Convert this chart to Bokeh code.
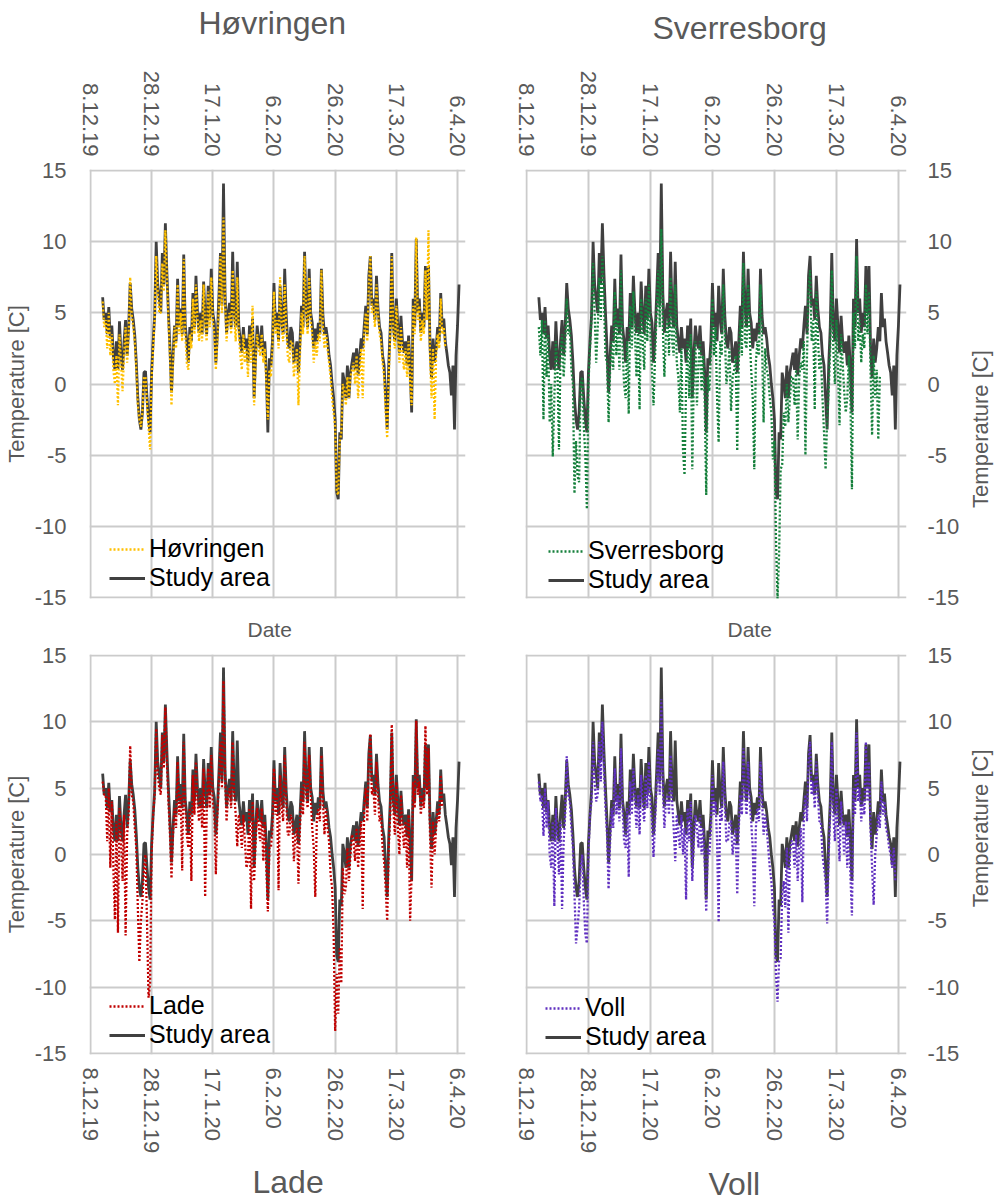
import calendar
import math
import datetime as dt
from bokeh.plotting import figure
from bokeh.models import FixedTicker, Legend, LegendItem, Range1d, Label
from bokeh.layouts import row, column
from bokeh.embed import file_html
from bokeh.resources import INLINE
from bokeh.core.validation import silence
from bokeh.core.validation.warnings import MISSING_RENDERERS

silence(MISSING_RENDERERS, True)

FONT = "Liberation Sans"
GREY = "#595959"

# ---------------- data (12-hourly readings, first value at 12.12.2019 00:00) ----------------
series_start = dt.datetime(2019, 12, 12)

study_area = [
    6.1, 4.5, 5.0, 3.5, 5.4, 3.2, 4.1, 2.0, 1.0, 3.0, 1.0, 4.4, 2.0, 1.0, 3.0, 4.5, 2.0, 4.0, 7.1, 5.3,
    4.5, 3.4, 1.5, -1.0, -2.5, -3.2, -2.0, 0.8, 0.9, -1.0, -2.5, -3.4, 0.8, 3.0, 4.8, 10.0, 7.0, 6.0, 5.0, 9.2,
    7.0, 11.3, 7.8, 5.0, 2.5, -0.6, 2.0, 4.1, 3.0, 7.4, 4.0, 5.3, 3.5, 9.1, 4.1, 3.0, 1.5, 4.0, 3.0, 6.4,
    4.0, 7.6, 5.0, 3.6, 5.0, 3.5, 7.2, 4.8, 3.5, 6.9, 4.5, 8.1, 5.0, 4.3, 1.5, 3.5, 6.2, 9.2, 5.5, 14.1,
    6.4, 3.6, 5.0, 5.7, 4.0, 9.3, 5.0, 4.0, 8.6, 4.1, 3.0, 2.2, 4.0, 2.5, 3.2, 1.5, 4.1, 2.5, 4.6, -1.0,
    2.0, 4.1, 3.0, 2.5, 4.1, 2.0, 3.0, 0.8, -3.4, 1.8, 1.3, 3.0, 7.1, 4.0, 5.0, 3.0, 6.9, 4.5, 3.5, 8.1,
    4.8, 3.0, 2.5, 4.0, 3.6, 1.5, 2.2, 3.0, 0.8, 3.0, 5.5, 4.0, 9.3, 5.5, 4.0, 8.1, 5.0, 4.3, 2.5, 3.9,
    3.0, 4.3, 3.5, 8.1, 4.8, 3.5, 4.0, 3.2, 2.0, 1.3, 0.0, -1.0, -2.5, -7.6, -8.1, -3.4, -3.9, 0.8, 0.1, -1.0,
    1.3, -1.0, 0.8, 1.5, 2.2, 1.0, 2.5, 0.6, 2.0, 3.2, 2.5, 4.1, 5.5, 3.5, 7.6, 9.0, 5.5, 6.0, 4.5, 7.6,
    5.3, 4.0, 3.6, 2.0, 1.3, -1.0, -3.2, 1.3, 4.0, 9.2, 4.1, 3.0, 6.0, 4.0, 2.2, 4.8, 3.0, 2.2, 3.0, 1.3,
    3.4, 1.0, -2.0, 6.0, 4.0, 10.2, 5.0, 6.0, 3.6, 5.0, 4.0, 8.3, 5.0, 8.3, 2.7, 0.4, 3.2, 1.5, 2.5, 4.0,
    3.0, 6.4, 4.0, 4.6, 3.0, 2.2, 1.3, 0.8, -0.8, 1.3, -3.2, 2.0, 4.1, 7.0,
]

hovringen = [
    5.8, 4.0, 4.5, 2.5, 5.0, 2.0, 3.5, 1.0, 0.0, 2.0, -1.5, 3.5, 1.5, -0.5, 2.0, 4.0, 1.5, 3.5, 7.5, 4.8,
    4.0, 3.0, 1.0, -1.5, -2.5, -3.0, -2.0, 0.5, 0.5, -1.5, -3.0, -4.6, 0.5, 2.5, 4.5, 9.0, 6.5, 5.0, 5.0, 8.5,
    6.5, 10.8, 7.5, 4.5, 2.0, -1.5, 1.5, 4.0, 2.5, 7.0, 3.5, 5.0, 3.0, 8.8, 3.5, 1.5, 1.0, 3.5, 2.5, 6.0,
    3.5, 7.0, 4.5, 3.0, 4.5, 3.0, 7.0, 4.0, 3.0, 6.5, 4.0, 7.5, 4.5, 3.5, 1.0, 3.0, 5.5, 9.0, 5.0, 11.7,
    6.0, 3.0, 4.5, 5.0, 3.5, 8.0, 4.5, 3.0, 7.5, 3.5, 2.0, 1.0, 3.5, 1.5, 2.5, 0.5, 3.5, 1.5, 5.5, -1.5,
    1.5, 3.5, 2.5, 2.0, 3.5, 1.5, 2.5, 0.0, -2.5, 1.0, 0.5, 2.5, 6.5, 3.5, 4.5, 2.5, 7.5, 4.0, 3.0, 7.0,
    4.0, 2.0, 1.5, 3.0, 3.0, 0.5, 1.5, 2.5, -1.5, 2.0, 5.0, 3.5, 9.0, 5.0, 3.5, 7.5, 4.5, 3.5, 1.5, 3.0,
    2.0, 3.5, 3.0, 8.0, 4.0, 2.5, 3.5, 2.5, 1.5, 0.5, -1.0, -2.0, -3.0, -7.5, -7.8, -4.0, -3.5, 0.0, -0.5, -1.5,
    0.5, -1.0, 0.5, 1.0, 1.5, 0.0, 2.0, -1.0, 1.0, 2.5, -1.0, 3.5, 5.0, 3.0, 7.0, 9.0, 5.0, 5.5, 4.0, 7.0,
    5.0, 3.5, 3.0, 1.5, 0.5, -2.0, -3.8, 0.5, 3.5, 9.0, 3.5, 2.5, 5.5, 3.5, 1.5, 4.0, 2.0, 1.0, 2.5, 0.5,
    3.0, 0.0, -1.5, 5.5, 3.5, 10.3, 4.5, 5.5, 3.0, 4.5, 3.5, 8.0, 4.5, 10.8, 2.0, -1.0, 2.5, -2.5, 2.0, 3.5,
    2.5, 6.0, 3.5, 4.0, 2.5,
]

sverresborg = [
    4.0, 2.0, 4.5, -2.5, 4.5, 0.5, 3.5, -2.7, 0.0, -5.1, -1.0, 3.0, 1.0, -4.6, 2.0, 3.5, 0.5, 2.5, 6.0, 3.5,
    4.0, 1.0, 0.0, -7.7, -4.0, -6.5, -6.9, 0.0, 0.5, -3.0, -5.0, -8.8, 0.0, 2.5, 4.5, 8.5, 5.0, 1.5, 4.0, 7.5,
    4.5, 9.0, 6.0, 2.0, 1.5, -2.7, 1.0, 3.0, 1.0, 6.5, 2.0, 4.5, 1.0, 8.0, 2.5, 0.0, -1.0, 3.0, -2.1, 5.5,
    2.5, 6.5, 3.5, 0.5, 4.0, -1.8, 6.0, 3.0, 1.0, 6.0, 3.0, 7.0, 3.5, 1.0, -1.5, 2.0, 5.0, 8.0, 4.0, 10.9,
    4.0, 0.5, 3.5, 4.5, 2.0, 7.5, 3.0, 2.0, 7.0, 1.5, 0.5, -2.0, 2.5, -4.6, -6.4, 0.0, 3.0, -1.0, 3.5, -6.0,
    0.5, 3.0, -1.5, 1.5, 3.0, -0.5, 2.0, -1.0, -7.8, 0.5, -0.5, 2.0, 6.0, 2.0, 4.0, -1.0, -4.1, 3.0, 2.0, 7.0,
    3.5, 0.0, 1.0, 2.5, -1.9, 0.5, 1.0, 2.0, -4.7, 1.5, 4.5, 2.0, 8.5, 3.0, 2.5, 7.0, 3.5, 1.0, -1.0, -6.0,
    1.5, 3.0, 2.0, 7.0, 3.0, -2.7, 2.5, 1.0, 0.5, -1.0, -2.0, -5.3, -4.0, -10.9, -15.1, -12.0, -6.0, -5.7, -2.0, -3.0,
    0.0, -2.7, -1.0, 0.5, 0.5, -1.5, 1.0, -3.9, 0.5, 1.5, 1.0, 3.0, -5.0, 2.0, 6.5, 8.0, 3.0, 4.5, -1.8, 6.5,
    3.5, 1.0, 2.0, -1.0, -3.4, -6.0, -2.5, -0.5, 2.5, 8.0, 2.5, 0.0, 4.5, 1.0, -2.9, 3.5, 1.5, -0.5, -2.0, -1.0,
    2.0, -1.0, -7.4, 5.0, 2.5, 9.0, 3.0, 4.5, 1.5, 3.5, 2.5, 7.0, 3.5, 6.5, 1.0, -3.6, 2.0, -1.0, 1.0, -3.9,
    0.5,
]

lade = [
    5.5, 4.5, 4.5, 1.0, 5.0, -1.0, 4.0, -1.0, -4.9, 2.5, -5.9, 3.5, 1.0, -2.0, 3.0, -6.1, 1.5, 3.0, 8.2, 4.5,
    4.0, 2.0, 0.5, -4.0, -8.1, -5.0, -3.5, -1.0, 0.0, -5.0, -10.8, -9.7, 0.0, 3.0, 4.5, 9.5, 6.0, 5.0, 4.5, 9.0,
    6.5, 11.1, 7.0, 4.0, 1.5, -1.8, 1.5, 3.5, 2.0, 7.0, 3.0, 4.5, -1.2, 8.5, 3.5, 1.5, 0.5, 3.5, -2.0, 6.0,
    3.0, 7.0, 4.0, 2.5, 4.5, 2.0, 6.5, -3.2, 3.0, 6.5, 3.5, 7.5, 4.0, 3.0, -1.5, 3.0, 5.5, 8.5, 5.0, 13.1,
    6.0, 2.5, 4.5, 5.0, 3.5, 8.5, 4.5, 3.0, 0.6, 3.0, 2.0, 0.5, 3.0, 1.0, -1.0, -0.5, 3.5, -4.1, 4.0, -2.0,
    1.0, 3.5, 2.0, 1.0, 3.5, -0.5, 2.5, -1.0, -4.3, 0.5, 0.5, 2.0, 6.5, 3.0, 4.5, -2.7, 6.0, 3.5, 2.5, 7.5,
    4.0, 1.5, 1.5, 3.0, 2.5, -0.5, 1.5, 2.0, -2.2, 2.0, 5.0, 3.0, 8.5, 4.5, 3.5, 7.5, 4.5, 2.0, 0.5, -3.2,
    2.5, 3.5, 2.5, 7.5, 4.0, 1.5, 3.5, 2.0, 1.0, -1.5, -2.5, -6.0, -13.3, -9.0, -12.0, -7.0, -9.7, -1.0, -3.0, -2.5,
    0.5, -2.0, 0.0, 1.5, 1.0, -0.5, 2.0, -1.0, 1.0, 2.5, -4.1, 3.5, 5.0, 2.5, 7.0, 9.1, 4.5, 5.0, 3.0, 7.0,
    4.5, 2.5, 3.0, 0.5, -0.5, -2.5, -5.0, 0.5, 3.0, 9.8, 3.5, 1.5, 5.5, 2.0, 0.0, 4.5, 2.0, 0.5, 2.5, -1.0,
    3.0, -5.0, -1.5, 5.5, 3.5, 10.1, 4.5, 5.5, 3.0, 4.5, 3.5, 9.7, 4.5, 8.0, 1.5, -2.5, 2.5, 0.0, 2.0, 3.5,
    2.5, 6.0, 3.5,
]

voll = [
    5.5, 4.0, 4.5, 1.4, 5.0, 2.0, 4.0, 0.0, -1.0, 2.5, -3.9, 3.5, 1.0, -1.5, 2.5, -4.1, 1.0, 3.0, 7.4, 4.5,
    4.0, 2.0, 0.5, -3.0, -6.7, -5.5, -4.0, -1.0, 0.0, -3.5, -6.0, -6.7, 0.0, 3.0, 4.0, 8.5, 5.5, 4.0, 4.5, 8.5,
    5.5, 10.0, 6.5, 3.5, 1.5, -2.6, 1.0, 3.5, 2.0, 6.5, 3.0, 4.5, 2.5, 8.0, 3.5, 1.0, 0.5, 3.5, -1.7, 5.5,
    3.0, 6.5, 4.0, 2.0, 4.5, 1.5, 6.0, 3.5, 2.5, 6.0, 3.5, 7.0, 4.0, 2.5, -0.2, 2.5, 5.0, 8.0, 4.5, 11.7,
    5.0, 2.0, 4.0, 4.5, 3.0, 7.5, 4.0, 2.0, -0.5, 3.0, 1.5, 0.5, 3.0, 0.0, 2.0, -3.4, 3.5, 1.0, 4.0, -2.0,
    1.0, 3.0, 2.0, 0.5, 3.0, 0.0, 2.0, -0.5, -4.3, 0.5, 0.0, 2.0, 6.0, 3.0, 4.0, 1.0, -5.1, 3.5, 2.5, 7.0,
    4.0, 1.0, 1.0, 2.5, 2.5, 0.0, 1.0, 2.0, -3.0, 2.0, 4.5, 3.0, 8.0, 4.5, 3.0, 7.0, 4.0, 2.5, 0.5, -3.9,
    2.0, 3.5, 2.5, 7.0, 4.0, 1.5, 3.0, 2.0, 0.5, -1.0, -2.0, -4.0, -5.0, -9.0, -11.1, -8.0, -7.8, -3.0, -2.0, -4.0,
    0.5, -5.9, 0.0, 1.0, 1.0, -1.0, 1.5, -2.0, 0.5, 2.0, -3.6, 3.0, 4.5, 2.5, 7.0, 8.5, 4.5, 5.5, 3.5, 7.0,
    4.5, 2.5, 2.5, 0.0, -1.0, -2.0, -5.2, 0.0, 3.0, 8.5, 3.0, 1.0, 5.0, 2.0, -0.5, 4.0, 2.0, 0.0, 2.5, -1.0,
    2.5, -1.5, -4.6, 5.0, 3.0, 9.2, 4.0, 5.0, 2.5, 4.0, 3.0, 8.5, 4.0, 7.0, 2.0, -1.0, -3.8, 0.0, 1.5, 3.0,
    2.0, 5.5, 3.0, 4.0, 2.0, 1.5, 0.5, 0.0, -1.0, 0.5, -2.0,
]

tick_dates = [dt.datetime(2019, 12, 8), dt.datetime(2019, 12, 28), dt.datetime(2020, 1, 17),
              dt.datetime(2020, 2, 6), dt.datetime(2020, 2, 26), dt.datetime(2020, 3, 17),
              dt.datetime(2020, 4, 6)]
tick_labels = ["8.12.19", "28.12.19", "17.1.20", "6.2.20", "26.2.20", "17.3.20", "6.4.20"]
y_ticks = [-15, -10, -5, 0, 5, 10, 15]
y_labels = ["-15", "-10", "-5", "0", "5", "10", "15"]

station_names = ["Høvringen", "Sverresborg", "Lade", "Voll"]
station_values = [hovringen, sverresborg, lade, voll]
station_colors = ["#FFC000", "#16803C", "#C00000", "#6030C0"]
study_color = "#404040"
x_title = "Date"
y_title = "Temperature [C]"
study_label = "Study area"


def ms(d):
    return calendar.timegm(d.timetuple()) * 1000


def times(n):
    return [series_start + dt.timedelta(hours=12 * i) for i in range(n)]


DAY = 86400000
tick_ms = [ms(d) for d in tick_dates]
x_start = ms(tick_dates[0]) - int(0.3 * DAY)
x_end = ms(tick_dates[-1]) + int(2.6 * DAY)

LEFT_W, RIGHT_W, RIGHT_MAIN_W = 495, 500, 470
YLAB_W = RIGHT_W - RIGHT_MAIN_W


def strip(width, height, text, x, y, size, angle=0.0, align="left"):
    """A text-only band; its data units equal pixels (y measured up from the band's bottom)."""
    s = figure(width=width, height=height, x_range=Range1d(0, width), y_range=Range1d(0, height),
               title=None, toolbar_location=None, output_backend="svg",
               x_axis_location=None, y_axis_location=None, min_border=0)
    s.grid.visible = False
    s.outline_line_color = None
    s.background_fill_color = "white"
    s.border_fill_color = "white"
    s.add_layout(Label(x=x, y=y, text=text, text_font=FONT, text_font_size=size, angle=angle,
                       text_color=GREY, text_align=align, text_baseline="middle"))
    return s


def make_panel(name, vals, color, top, right, legend_loc):
    w = RIGHT_MAIN_W if right else LEFT_W
    h = 562 if top else 520
    p = figure(width=w, height=h, x_axis_type="datetime", title=None,
               x_axis_location="above" if top else "below",
               y_axis_location="right" if right else "left",
               x_range=Range1d(x_start, x_end), y_range=Range1d(-15.08, 15.08),
               toolbar_location=None, output_backend="svg",
               min_border_left=30 if right else 87,
               min_border_right=59 if right else 30,
               min_border_top=121 if top else 14,
               min_border_bottom=12 if top else 106)
    p.outline_line_color = None
    p.background_fill_color = "white"
    p.border_fill_color = "white"

    xa = p.xaxis[0]
    xa.ticker = FixedTicker(ticks=tick_ms)
    xa.major_label_overrides = {t: l for t, l in zip(tick_ms, tick_labels)}
    xa.major_label_orientation = -math.pi / 2
    ya = p.yaxis[0]
    ya.ticker = FixedTicker(ticks=y_ticks)
    ya.major_label_overrides = {t: l for t, l in zip(y_ticks, y_labels)}
    for ax in (xa, ya):
        ax.axis_line_color = None
        ax.major_tick_line_color = None
        ax.minor_tick_line_color = None
        ax.major_tick_out = 0
        ax.major_tick_in = 0
        ax.major_label_text_font = FONT
        ax.major_label_text_font_size = "22px"
        ax.major_label_text_color = GREY
        ax.axis_label_text_font = FONT
        ax.axis_label_text_font_size = "22px"
        ax.axis_label_text_font_style = "normal"
        ax.axis_label_text_color = GREY
    xa.major_label_standoff = 13
    if right:
        ya.major_label_standoff = 21
    else:
        ya.axis_label = y_title
        ya.major_label_standoff = 23
        ya.axis_label_standoff = 3

    p.xgrid.ticker = FixedTicker(ticks=tick_ms)
    p.ygrid.ticker = FixedTicker(ticks=y_ticks)
    for g in (p.xgrid, p.ygrid):
        g.grid_line_color = "#CBCBCB"
        g.grid_line_width = 2

    r_s = p.line(times(len(study_area)), study_area, line_color=study_color, line_width=2.8)
    r_v = p.line(times(len(vals)), vals, line_color=color, line_width=2.3, line_dash="2 2")

    legend = Legend(items=[LegendItem(label=name, renderers=[r_v]),
                           LegendItem(label=study_label, renderers=[r_s])],
                    location=legend_loc, padding=0, spacing=0, margin=0,
                    label_height=28, glyph_height=28, glyph_width=36, label_standoff=4,
                    label_text_font=FONT, label_text_font_size="25px", label_text_color="black",
                    background_fill_alpha=0, border_line_alpha=0)
    p.add_layout(legend)
    return p


# rows: titles (0-48), top charts (48-610), "Date" band (610-640), bottom charts (640-1160), titles (1160-1203)
t_tl = strip(LEFT_W, 48, station_names[0], 198, 26, "32px")
t_tr = strip(RIGHT_W, 48, station_names[1], 157, 21, "32px")
p_tl = make_panel(station_names[0], station_values[0], station_colors[0], True, False, (20, 6))
p_tr = make_panel(station_names[1], station_values[1], station_colors[1], True, True, (23, 4))
y_tr = strip(YLAB_W, 562, y_title, 15, 222, "22px", angle=math.pi / 2, align="center")
d_l = strip(LEFT_W, 30, x_title, 247, 11, "21px")
d_r = strip(RIGHT_W, 30, x_title, 232, 11, "21px")
p_bl = make_panel(station_names[2], station_values[2], station_colors[2], False, False, (20, 5))
p_br = make_panel(station_names[3], station_values[3], station_colors[3], False, True, (20, 3))
y_br = strip(YLAB_W, 520, y_title, 15, 294, "22px", angle=math.pi / 2, align="center")
t_bl = strip(LEFT_W, 43, station_names[2], 252, 22, "32px")
t_br = strip(RIGHT_W, 43, station_names[3], 213, 20, "32px")

layout = column(row(t_tl, t_tr), row(p_tl, p_tr, y_tr), row(d_l, d_r),
                row(p_bl, p_br, y_br), row(t_bl, t_br))

with open("out.html", "w", encoding="utf-8") as f:
    f.write(file_html(layout, INLINE))
